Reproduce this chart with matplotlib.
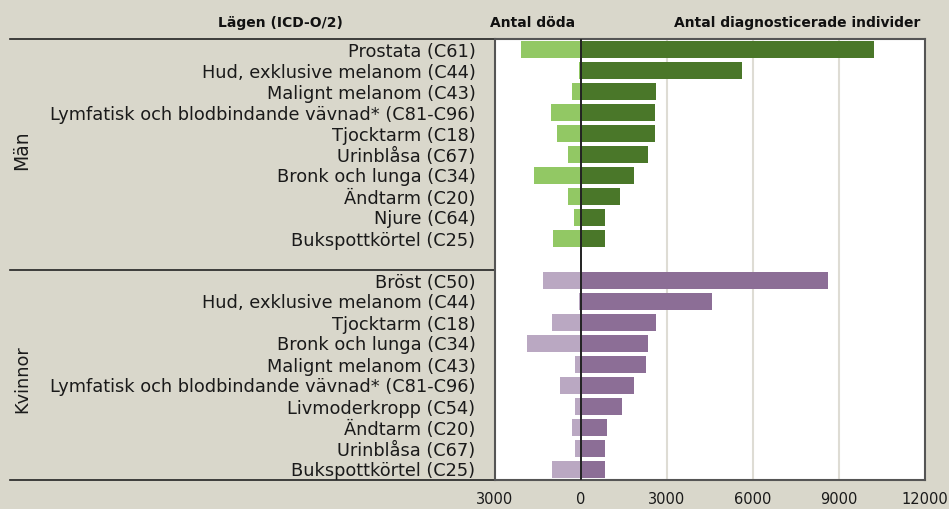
import matplotlib
matplotlib.use("Agg")
import matplotlib.pyplot as plt
import matplotlib.transforms as mtransforms
from matplotlib.ticker import FuncFormatter

# data
men_sites = ["Prostata (C61)", "Hud, exklusive melanom (C44)", "Malignt melanom (C43)",
             "Lymfatisk och blodbindande vävnad* (C81-C96)", "Tjocktarm (C18)",
             "Urinblåsa (C67)", "Bronk och lunga (C34)", "Ändtarm (C20)",
             "Njure (C64)", "Bukspottkörtel (C25)"]
men_diagnosed = [10220, 5620, 2620, 2580, 2580, 2340, 1850, 1360, 840, 840]
men_deaths = [2080, 60, 310, 1050, 840, 440, 1630, 440, 250, 970]

women_sites = ["Bröst (C50)", "Hud, exklusive melanom (C44)", "Tjocktarm (C18)",
               "Bronk och lunga (C34)", "Malignt melanom (C43)",
               "Lymfatisk och blodbindande vävnad* (C81-C96)", "Livmoderkropp (C54)",
               "Ändtarm (C20)", "Urinblåsa (C67)", "Bukspottkörtel (C25)"]
women_diagnosed = [8620, 4570, 2620, 2340, 2270, 1850, 1430, 910, 840, 840]
women_deaths = [1330, 60, 1010, 1880, 210, 730, 210, 310, 210, 1010]

x_ticks = [-3000, 0, 3000, 6000, 9000, 12000]

BG = "#D9D7CB"
W, H = 949, 509

plt.rcParams["font.family"] = ["DejaVu Sans"]
fig = plt.figure(figsize=(W / 100, H / 100), dpi=100, facecolor=BG)
ax = fig.add_axes([495 / W, (H - 480) / H, (925 - 495) / W, (480 - 39) / H])
ax.set_facecolor("white")

men_y = list(range(len(men_sites)))
women_y = [11 + i for i in range(len(women_sites))]

ax.barh(men_y, [-d for d in men_deaths], height=0.8, color="#92C864", zorder=2)
ax.barh(men_y, men_diagnosed, height=0.8, color="#4A7729", zorder=2)
ax.barh(women_y, [-d for d in women_deaths], height=0.8, color="#BAA8C2", zorder=2)
ax.barh(women_y, women_diagnosed, height=0.8, color="#8C6E96", zorder=2)

ax.set_xlim(-3000, 12000)
ax.set_ylim(20.5, -0.5)
ax.set_xticks(x_ticks)
ax.xaxis.set_major_formatter(FuncFormatter(lambda v, p: f"{abs(int(v))}"))
ax.tick_params(axis="x", length=0, pad=9, labelsize=10.5, colors="#1a1a1a")
for v in x_ticks[2:-1]:
    ax.axvline(v, color="#DEDCD4", lw=1.5, zorder=1)
ax.axvline(0, color="#222222", lw=1.4, zorder=3)

ax.set_yticks(men_y + women_y)
ax.set_yticklabels(men_sites + women_sites, fontsize=12.8, color="#1a1a1a")
ax.tick_params(axis="y", length=0, pad=14)

for s in ax.spines.values():
    s.set_color("#555555")
    s.set_linewidth(1.5)

# lines and group labels in the label area
tr = mtransforms.blended_transform_factory(fig.transFigure, ax.transData)
for yv in (-0.5, 10.5, 20.5):
    ax.add_line(plt.Line2D([10 / W, 495 / W], [yv, yv], transform=tr,
                           color="#222222", lw=1.2, clip_on=False))
ax.text(22 / W, 4.8, "Män", transform=tr, rotation=90, ha="center", va="center",
        fontsize=13.5, color="#1a1a1a")
ax.text(22 / W, 15.7, "Kvinnor", transform=tr, rotation=90, ha="center", va="center",
        fontsize=12.8, color="#1a1a1a")

# headers
fig.text(280 / W, 1 - 23 / H, "Lägen (ICD-O/2)", ha="center", va="center",
         fontsize=10, fontweight="bold", color="#111111")
fig.text(490 / W, 1 - 23 / H, "Antal döda", ha="left", va="center",
         fontsize=10, fontweight="bold", color="#111111")
fig.text(920 / W, 1 - 23 / H, "Antal diagnosticerade individer", ha="right", va="center",
         fontsize=10, fontweight="bold", color="#111111")

fig.savefig("out.png", dpi=100, facecolor=BG)
